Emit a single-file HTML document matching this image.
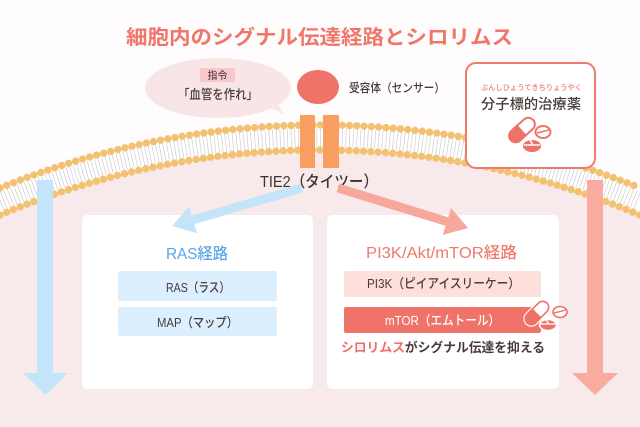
<!DOCTYPE html>
<html><head><meta charset="utf-8"><style>
html,body{margin:0;padding:0;background:#fefcfc;width:640px;height:427px;overflow:hidden;}
svg{display:block;overflow:hidden;}
text{font-family:"Liberation Sans","Noto Sans CJK JP",sans-serif;font-weight:500;}
</style></head><body>
<svg width="640" height="427" viewBox="0 0 640 427" xmlns="http://www.w3.org/2000/svg">
<rect width="640" height="427" fill="#fefcfc"/>
<!-- membrane band & cell interior -->
<path d="M0,185.9 A846,846 0 0 1 640,185.9 L640,427 L0,427 Z" fill="#ffffff"/>
<path d="M0,215.1 A819,819 0 0 1 640,215.1 L640,427 L0,427 Z" fill="#f8eaea"/>
<!-- lipid tails -->
<path d="M0,201.5 A831.5,831.5 0 0 1 640,201.5" fill="none" stroke="#cfcccc" stroke-width="19" stroke-dasharray="0.7 2.95"/>
<!-- heads -->
<path d="M0,188 A844,844 0 0 1 640,188" fill="none" stroke="#f3c172" stroke-width="7.4" stroke-linecap="round" stroke-dasharray="0 7.3"/>
<path d="M0,215.1 A819,819 0 0 1 640,215.1" fill="none" stroke="#f3c172" stroke-width="7.4" stroke-linecap="round" stroke-dasharray="0 7.3"/>

<!-- title -->
<text x="126" y="44" font-size="20" style="font-weight:700" fill="#f0766a" textLength="387" lengthAdjust="spacingAndGlyphs">細胞内のシグナル伝達経路とシロリムス</text>

<!-- speech bubble -->
<ellipse cx="218" cy="88" rx="73" ry="30" fill="#f8e6e6"/>
<polygon points="262,104 284,114 272,95" fill="#f8e6e6"/>
<rect x="200" y="68" width="35" height="14" fill="#f9c8cb"/>
<text x="217.5" y="79" font-size="10" fill="#5a4646" text-anchor="middle">指令</text>
<text x="178" y="99" font-size="13" fill="#4a3b3b" textLength="80" lengthAdjust="spacingAndGlyphs">「血管を作れ」</text>

<!-- receptor -->
<ellipse cx="318" cy="87" rx="21" ry="17" fill="#f0736a"/>
<text x="349" y="92" font-size="12" fill="#4a3b3b" textLength="96" lengthAdjust="spacingAndGlyphs">受容体（センサー）</text>

<!-- TIE2 bars -->
<rect x="300" y="115" width="15" height="53" fill="#f89e60"/>
<rect x="323" y="115" width="16" height="53" fill="#f89e60"/>
<text x="260" y="187" font-size="16" fill="#3e3232" textLength="118" lengthAdjust="spacingAndGlyphs">TIE2（タイツー）</text>

<!-- target drug box -->
<rect x="466" y="63" width="129" height="105" rx="10" fill="#ffffff" stroke="#ef7b6f" stroke-width="2"/>
<text x="481" y="90" font-size="7.5" fill="#ef7b6f" textLength="101" lengthAdjust="spacingAndGlyphs">ぶんしひょうてきちりょうやく</text>
<text x="481" y="109" font-size="14" fill="#4a3b3b" textLength="100" lengthAdjust="spacingAndGlyphs">分子標的治療薬</text>
<g transform="translate(522,130) rotate(-42)">
  <rect x="-15" y="-6.5" width="30" height="13" rx="6.5" fill="#fff" stroke="#ef7168" stroke-width="2"/>
  <path d="M0,-7.5 H-8.5 A7.5,7.5 0 0 0 -8.5,7.5 H0 Z" fill="#ef7168"/>
</g>
<ellipse cx="543" cy="132" rx="7.5" ry="6" fill="#fff" stroke="#ef7168" stroke-width="2"/>
<line x1="537" y1="133" x2="549" y2="130" stroke="#ef7168" stroke-width="1.5"/>
<ellipse cx="532" cy="146" rx="9" ry="6" fill="#ef7168"/>
<line x1="524" y1="145" x2="540" y2="145" stroke="#fff" stroke-width="1.5"/>
<line x1="533" y1="145" x2="530" y2="140" stroke="#fff" stroke-width="1.5"/>

<!-- vertical arrows -->
<rect x="37" y="180" width="16" height="195" fill="#c4e4fa"/>
<polygon points="23,373 68,373 45.5,395" fill="#c4e4fa"/>
<rect x="587" y="180" width="16" height="195" fill="#f9aba0"/>
<polygon points="572,373 618,373 595,395" fill="#f9aba0"/>

<!-- boxes -->
<rect x="82" y="215" width="231" height="174" rx="5" fill="#ffffff"/>
<rect x="327" y="215" width="232" height="174" rx="5" fill="#ffffff"/>

<!-- diagonal arrows -->
<g transform="translate(172,226) rotate(163.7)">
  <rect x="-135" y="-4.5" width="115" height="9" fill="#c4e4fa"/>
  <polygon points="0,0 -22,-14 -22,14" fill="#c4e4fa"/>
</g>
<g transform="translate(468,228) rotate(17.1)">
  <rect x="-136" y="-4.5" width="116" height="9" fill="#f8a79c"/>
  <polygon points="0,0 -22,-14 -22,14" fill="#f8a79c"/>
</g>

<!-- RAS pathway -->
<text x="197" y="259" font-size="16" fill="#5aa6e6" text-anchor="middle" textLength="62" lengthAdjust="spacingAndGlyphs">RAS経路</text>
<rect x="118" y="271" width="159" height="30" rx="2" fill="#dcefff"/>
<text x="198" y="292" font-size="13" fill="#4a3b3b" text-anchor="middle" textLength="64" lengthAdjust="spacingAndGlyphs">RAS（ラス）</text>
<rect x="118" y="307" width="159" height="29" rx="2" fill="#dcefff"/>
<text x="197.5" y="327" font-size="13" fill="#4a3b3b" text-anchor="middle" textLength="81" lengthAdjust="spacingAndGlyphs">MAP（マップ）</text>

<!-- PI3K pathway -->
<text x="441.5" y="258" font-size="16" fill="#ee7a6e" text-anchor="middle" textLength="151" lengthAdjust="spacingAndGlyphs">PI3K/Akt/mTOR経路</text>
<rect x="344" y="271" width="197" height="26" rx="2" fill="#fde0dc"/>
<text x="443.5" y="288" font-size="13" fill="#4a3b3b" text-anchor="middle" textLength="153" lengthAdjust="spacingAndGlyphs">PI3K（ピイアイスリーケー）</text>
<rect x="344" y="307" width="197" height="26" rx="2" fill="#f0736a"/>
<text x="442.5" y="325" font-size="13" fill="#ffffff" text-anchor="middle" textLength="115" lengthAdjust="spacingAndGlyphs">mTOR（エムトール）</text>
<text x="341" y="352" font-size="13" style="font-weight:700" fill="#4a3b3b" textLength="204" lengthAdjust="spacingAndGlyphs"><tspan fill="#ef6f68">シロリムス</tspan>がシグナル伝達を抑える</text>

<!-- pills near mTOR -->
<g transform="translate(537,313) rotate(-45)">
  <rect x="-14" y="-6" width="28" height="12" rx="6" fill="#fff" stroke="#fff" stroke-width="4"/>
  <rect x="-14" y="-6" width="28" height="12" rx="6" fill="#fff" stroke="#ef7168" stroke-width="1.6"/>
  <path d="M0,-6.8 H-8 A6.8,6.8 0 0 0 -8,6.8 H0 Z" fill="#ef7168"/>
</g>
<ellipse cx="560" cy="312" rx="7" ry="5.5" fill="#fff" stroke="#ef7168" stroke-width="1.6"/>
<line x1="554" y1="313" x2="566" y2="310" stroke="#ef7168" stroke-width="1.3"/>
<ellipse cx="548" cy="325" rx="8.5" ry="5.5" fill="#ef7168" stroke="#fff" stroke-width="1.5"/>
<line x1="540" y1="324" x2="556" y2="324" stroke="#fff" stroke-width="1.3"/>
<line x1="549" y1="324" x2="546" y2="320" stroke="#fff" stroke-width="1.3"/>
</svg>
</body></html>
